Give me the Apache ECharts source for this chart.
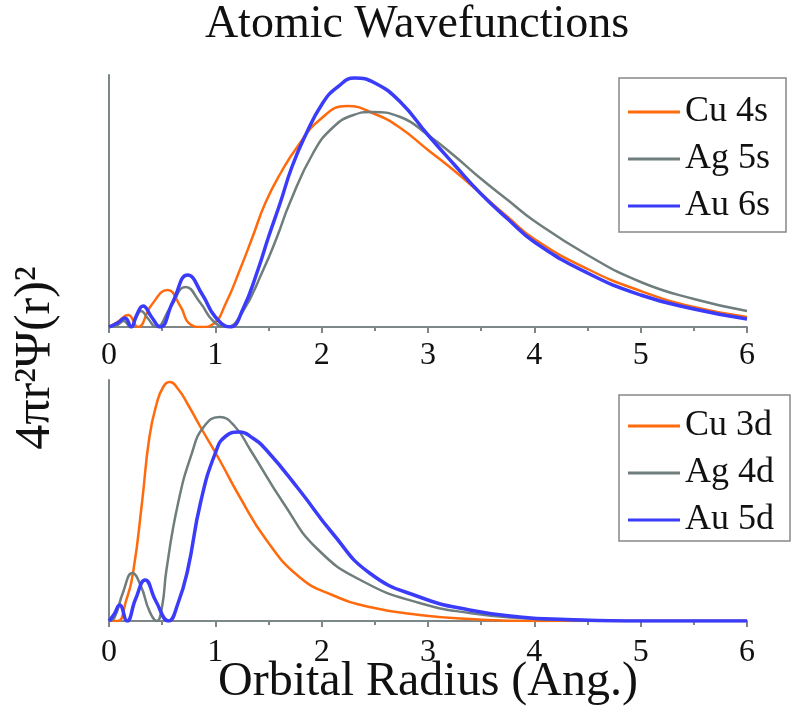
<!DOCTYPE html>
<html>
<head>
<meta charset="utf-8">
<script src="https://cdn.jsdelivr.net/npm/echarts@6/dist/echarts.min.js"></script>
<style>
  html, body { margin: 0; padding: 0; background: #fff; }
  #chart { width: 798px; height: 707px; }
</style>
</head>
<body>
<div id="chart"></div>
<script>
// top panel: s orbitals
const cu4sX = [0, 0.08, 0.18, 0.27, 0.4, 0.55, 0.67, 0.76, 0.87, 0.98, 1.1, 1.23, 1.35, 1.47, 1.62, 1.77, 1.98, 2.24, 2.5, 2.74, 3.0, 3.25, 3.49, 3.75, 4.0, 4.5, 5.0, 5.5, 6.0]
const cu4sY = [0, 5, 12, 0, 22, 37, 21, 3, 0, 3, 24, 57, 90, 124, 155, 180, 207, 221, 213, 199, 177, 156, 134, 110, 88, 58, 36, 20, 10]
const ag5sX = [0, 0.08, 0.14, 0.2, 0.25, 0.3, 0.37, 0.44, 0.58, 0.72, 0.86, 0.98, 1.1, 1.25, 1.45, 1.58, 1.7, 1.92, 2.11, 2.3, 2.47, 2.74, 3.0, 3.25, 3.49, 3.75, 4.0, 4.5, 5.0, 5.5, 6.0]
const ag5sY = [0, 2, 6, 0, 8, 16, 8, 0, 20, 40, 24, 6, 0, 14, 57, 90, 124, 174, 200, 212, 215, 210, 192, 171, 149, 127, 106, 72, 45, 28, 16]
const au6sX = [0, 0.08, 0.15, 0.21, 0.26, 0.32, 0.4, 0.48, 0.6, 0.74, 0.88, 1.0, 1.14, 1.26, 1.4, 1.5, 1.61, 1.72, 1.84, 2.01, 2.15, 2.31, 2.5, 2.74, 3.0, 3.25, 3.49, 3.75, 4.0, 4.5, 5.0, 5.5, 6.0]
const au6sY = [0, 4, 9, 0, 12, 21, 10, 0, 25, 52, 32, 10, 0, 18, 57, 90, 124, 160, 190, 224, 240, 249, 244, 225, 192, 162, 134, 108, 85, 54, 32, 18, 8]

// bottom panel: d orbitals
const cu3dX = [0, 0.08, 0.16, 0.23, 0.31, 0.38, 0.45, 0.51, 0.57, 0.65, 0.75, 0.86, 1.04, 1.23, 1.48, 1.79, 2.1, 2.45, 2.92, 3.39, 4.0, 5.0, 6.0]
const cu3dY = [0, 0, 20, 51, 118, 184, 218, 234, 239, 232, 215, 194, 161, 124, 81, 44, 26, 14, 6, 2, 0, 0, 0]
const ag4dX = [0, 0.05, 0.13, 0.22, 0.3, 0.38, 0.45, 0.5, 0.54, 0.65, 0.78, 0.89, 1.04, 1.18, 1.33, 1.64, 1.96, 2.4, 2.92, 3.39, 3.86, 4.5, 5.0, 6.0]
const ag4dY = [0, 3, 28, 48, 35, 10, 0, 15, 51, 118, 168, 194, 204, 195, 171, 118, 72, 39, 18, 8, 3, 0.5, 0, 0]
const au5dX = [0, 0.05, 0.1, 0.17, 0.25, 0.34, 0.44, 0.56, 0.65, 0.74, 0.86, 1.0, 1.1, 1.23, 1.35, 1.48, 1.79, 2.1, 2.45, 2.92, 3.39, 3.86, 4.3, 5.0, 6.0]
const au5dY = [0, 7, 16, 0, 22, 41, 20, 0, 18, 51, 118, 168, 185, 189, 183, 171, 131, 88, 48, 24, 11, 4, 1.5, 0, 0]

const xTicks = [0, 1, 2, 3, 4, 5, 6]
const topNames = ['Cu 4s', 'Ag 5s', 'Au 6s']
const bottomNames = ['Cu 3d', 'Ag 4d', 'Au 5d']
const colors = ['#ff6a0d', '#6f7d7d', '#3b3bfa']
const widths = [2.5, 2.5, 3.5]

const serif = 'Liberation Serif'
const axisGray = '#7d8787'

function pairs(xs, ys) {
    return xs.map((x, i) => [x, ys[i]])
}

function xAxisSet(idx, margin) {
    return {
        type: 'value',
        gridIndex: idx,
        min: xTicks[0],
        max: xTicks[xTicks.length - 1],
        interval: 1,
        axisLine: { show: true, onZero: false, lineStyle: { color: axisGray, width: 2 } },
        axisTick: { show: true, length: 6, lineStyle: { color: axisGray, width: 2 } },
        minorTick: { show: true, splitNumber: 2, length: 4, lineStyle: { color: axisGray, width: 2 } },
        splitLine: { show: false },
        axisLabel: { fontFamily: serif, fontSize: 32, color: '#111', margin: margin }
    }
}

function yAxisSet(idx, max) {
    return {
        type: 'value',
        gridIndex: idx,
        min: 0,
        max: max,
        axisLine: { show: true, lineStyle: { color: axisGray, width: 2 } },
        axisTick: { show: false },
        axisLabel: { show: false },
        splitLine: { show: false }
    }
}

function lineSeries(name, idx, k, data) {
    return {
        name: name,
        type: 'line',
        xAxisIndex: idx,
        yAxisIndex: idx,
        data: data,
        smooth: 0.5,
        symbol: 'none',
        color: colors[k],
        lineStyle: { color: colors[k], width: widths[k] }
    }
}

function legendSet(names, top, padding) {
    return {
        data: names,
        orient: 'vertical',
        left: 619,
        top: top,
        icon: 'rect',
        itemWidth: 52,
        itemHeight: 3,
        itemGap: 11,
        itemTextGap: 5,
        padding: padding,
        borderColor: '#888',
        borderWidth: 1.5,
        textStyle: { fontFamily: serif, fontSize: 36, color: '#111' }
    }
}

const chart = echarts.init(document.getElementById('chart'))

const option = {
    backgroundColor: '#fff',
    animation: false,
    title: {
        text: 'Atomic Wavefunctions',
        left: 417,
        top: 2,
        padding: 0,
        textAlign: 'center',
        textStyle: { fontFamily: serif, fontSize: 46, fontWeight: 'normal', color: '#111' }
    },
    grid: [
        { left: 109, right: 51, top: 75, height: 252, outerBoundsMode: 'none' },
        { left: 109, right: 51, top: 380, height: 241, outerBoundsMode: 'none' }
    ],
    xAxis: [
        xAxisSet(0, 13),
        Object.assign(xAxisSet(1, 16), {
            name: 'Orbital Radius (Ang.)',
            nameLocation: 'middle',
            nameGap: 37,
            nameMoveOverlap: false,
            nameTextStyle: { fontFamily: serif, fontSize: 48, color: '#111', verticalAlign: 'top' }
        })
    ],
    yAxis: [yAxisSet(0, 252), yAxisSet(1, 241)],
    legend: [
        legendSet(topNames, 78, [16, 16, 8, 9]),
        legendSet(bottomNames, 395, [13, 16, 3, 9])
    ],
    graphic: [{
        type: 'text',
        x: 36,
        y: 358,
        rotation: Math.PI / 2,
        style: {
            text: '4πr²Ψ(r)²',
            fontFamily: serif,
            fontSize: 50,
            fill: '#111',
            textAlign: 'center',
            textVerticalAlign: 'middle'
        }
    }],
    series: [
        lineSeries(topNames[0], 0, 0, pairs(cu4sX, cu4sY)),
        lineSeries(topNames[1], 0, 1, pairs(ag5sX, ag5sY)),
        lineSeries(topNames[2], 0, 2, pairs(au6sX, au6sY)),
        lineSeries(bottomNames[0], 1, 0, pairs(cu3dX, cu3dY)),
        lineSeries(bottomNames[1], 1, 1, pairs(ag4dX, ag4dY)),
        lineSeries(bottomNames[2], 1, 2, pairs(au5dX, au5dY))
    ]
}

chart.setOption(option)
window.addEventListener('resize', () => { chart.resize() })
</script>
</body>
</html>
